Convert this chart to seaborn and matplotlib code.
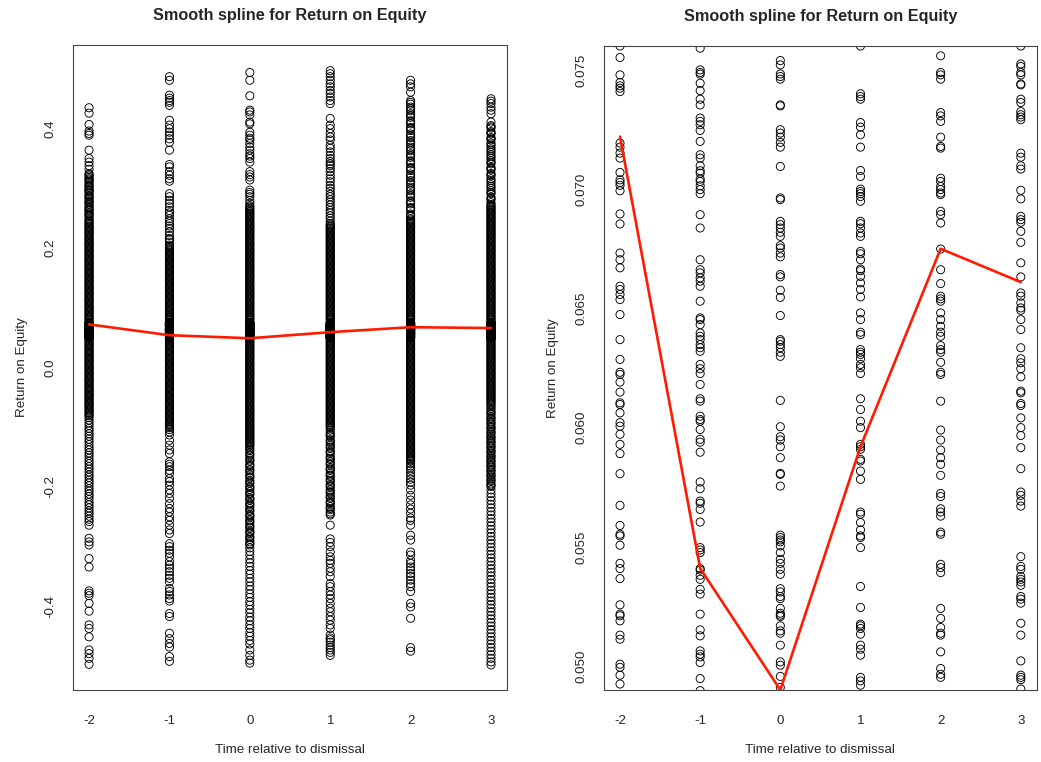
import matplotlib
matplotlib.use("Agg")
import matplotlib.pyplot as plt
import seaborn as sns
import pandas as pd

times = [-2, -1, 0, 1, 2, 3]
spline_roe = [0.0722, 0.0541, 0.0490, 0.0592, 0.0675, 0.0661]

# solid black part shared by every column, in thousandths (window 0.049-0.076 left out)
core = [205, 203, 201, 199, 197, 195, 193, 191, 189, 187, 185, 183, 181, 179, 177, 175,
        173, 171, 169, 167, 165, 163, 161, 159, 157, 155, 153, 151, 149, 147, 145, 143,
        141, 139, 137, 135, 133, 131, 129, 127, 125, 123, 121, 119, 117, 115, 113, 111,
        109, 107, 105, 103, 101, 99, 97, 95, 93, 91, 89, 87, 85, 83, 81, 79,
        47, 45, 43, 41, 39, 37, 35, 33, 31, 29, 27, 25, 23, 21, 19, 17, 15, 13, 11, 9,
        7, 5, 3, 1, -1, -3, -5, -7, -9, -11, -13, -15, -17, -19, -21, -23, -25, -27, -29,
        -31, -33, -35, -37, -39, -41, -43, -45, -47, -49, -51, -53, -55, -57, -59, -61, -63]

# rest of the solid part, per column, in thousandths
band_m2 = [249, 247, 245, 243, 241, 239, 237, 235, 233, 231, 229, 227, 225, 223, 221, 219,
           217, 215, 213, 211, 209, 207, -65, -67, -69, -71, -73, -75, -77, -79, -81]
band_m1 = [-65, -67, -69, -71, -73, -75, -77, -79, -81, -83, -85, -87, -89, -91, -93, -95,
           -97, -99, -101]
band_0 = [271, 269, 267, 265, 263, 261, 259, 257, 255, 253, 251, 249, 247, 245, 243, 241,
          239, 237, 235, 233, 231, 229, 227, 225, 223, 221, 219, 217, 215, 213, 211, 209, 207,
          -65, -67, -69, -71, -73, -75, -77, -79, -81, -83, -85, -87, -89, -91, -93, -95,
          -97, -99, -101, -103, -105, -107, -109, -111, -113, -115, -117, -119, -121, -123,
          -125, -127, -129, -131]
band_1 = [241, 239, 237, 235, 233, 231, 229, 227, 225, 223, 221, 219, 217, 215, 213, 211,
          209, 207, -65, -67, -69, -71, -73, -75, -77, -79, -81, -83, -85, -87, -89, -91,
          -93, -95, -97, -99, -101]
band_2 = [249, 247, 245, 243, 241, 239, 237, 235, 233, 231, 229, 227, 225, 223, 221, 219,
          217, 215, 213, 211, 209, 207, -65, -67, -69, -71, -73, -75, -77, -79, -81, -83,
          -85, -87, -89, -91, -93, -95, -97, -99, -101, -103, -105, -107, -109, -111, -113,
          -115, -117, -119, -121, -123, -125, -127, -129, -131, -133, -135, -137, -139,
          -141, -143, -145, -147, -149, -151, -153, -155, -157]
band_3 = [271, 269, 267, 265, 263, 261, 259, 257, 255, 253, 251, 249, 247, 245, 243, 241,
          239, 237, 235, 233, 231, 229, 227, 225, 223, 221, 219, 217, 215, 213, 211, 209, 207]

# looser chains and outliers, per column
roe_m2 = [0.435, 0.426, 0.407, 0.396, 0.392, 0.389, 0.364, 0.350, 0.344, 0.338, 0.332,
          0.325, 0.323, 0.321, 0.318, 0.316, 0.314, 0.312, 0.309, 0.306, 0.304, 0.302,
          0.299, 0.297, 0.296, 0.294, 0.291, 0.288, 0.286, 0.284, 0.282, 0.279, 0.277,
          0.276, 0.273, 0.270, 0.268, 0.266, 0.264, 0.262, 0.259, 0.257, 0.255, 0.253,
          -0.084, -0.088, -0.093, -0.097, -0.102, -0.106, -0.111, -0.115, -0.120, -0.124,
          -0.129, -0.134, -0.138, -0.143, -0.147, -0.152, -0.157, -0.161, -0.166, -0.170,
          -0.175, -0.180, -0.184, -0.189, -0.193, -0.198, -0.203, -0.207, -0.212, -0.216,
          -0.221, -0.226, -0.230, -0.235, -0.240, -0.244, -0.249, -0.254, -0.258, -0.264,
          -0.286, -0.292, -0.297, -0.320, -0.334, -0.374, -0.378, -0.382, -0.395, -0.408,
          -0.431, -0.437, -0.451, -0.473, -0.479, -0.487, -0.497]
roe_m1 = [0.487, 0.481, 0.456, 0.451, 0.447, 0.444, 0.439, 0.414, 0.406, 0.400, 0.394,
          0.389, 0.383, 0.377, 0.364, 0.340, 0.336, 0.328, 0.322, 0.316, 0.312, 0.291,
          0.286, 0.280, 0.275, 0.269, 0.263, 0.259, 0.255, 0.249, 0.245, 0.241, 0.237,
          0.233, 0.227, 0.221, 0.216, 0.214, 0.210,
          -0.104, -0.108, -0.113, -0.122, -0.130, -0.138, -0.144, -0.158, -0.162, -0.166,
          -0.172, -0.177, -0.186, -0.191, -0.197, -0.205, -0.211, -0.219, -0.228, -0.236,
          -0.242, -0.250, -0.256, -0.264, -0.272, -0.278, -0.295, -0.300, -0.306, -0.311,
          -0.317, -0.325, -0.331, -0.336, -0.342, -0.348, -0.353, -0.359, -0.370, -0.375,
          -0.381, -0.387, -0.391, -0.412, -0.417, -0.445, -0.454, -0.462, -0.468, -0.484,
          -0.492]
roe_0 = [0.494, 0.481, 0.455, 0.431, 0.428, 0.423, 0.411, 0.408, 0.394, 0.389, 0.384,
         0.381, 0.375, 0.369, 0.364, 0.358, 0.354, 0.350, 0.344, 0.328, 0.323, 0.319,
         0.314, 0.297, 0.293, 0.290, 0.286, 0.280, 0.275,
         -0.134, -0.137, -0.139, -0.143, -0.146, -0.148, -0.152, -0.155, -0.157, -0.162,
         -0.164, -0.166, -0.171, -0.173, -0.176, -0.180, -0.183, -0.185, -0.190, -0.192,
         -0.194, -0.199, -0.201, -0.204, -0.208, -0.211, -0.213, -0.218, -0.220, -0.222,
         -0.227, -0.229, -0.232, -0.236, -0.239, -0.241, -0.246, -0.248, -0.250, -0.255,
         -0.257, -0.260, -0.264, -0.267, -0.269, -0.274, -0.276, -0.278, -0.283, -0.285,
         -0.288, -0.292, -0.295, -0.297, -0.302, -0.308, -0.314, -0.321, -0.327, -0.333,
         -0.340, -0.346, -0.353, -0.359, -0.366, -0.372, -0.379, -0.385, -0.392, -0.398,
         -0.405, -0.411, -0.418, -0.424, -0.431, -0.437, -0.444, -0.450, -0.457, -0.463,
         -0.473, -0.482, -0.490, -0.495]
roe_1 = [0.497, 0.492, 0.487, 0.481, 0.475, 0.470, 0.464, 0.459, 0.453, 0.447, 0.442,
         0.417, 0.406, 0.400, 0.392, 0.386, 0.381, 0.372, 0.367, 0.361, 0.355, 0.350,
         0.345, 0.341, 0.338, 0.333, 0.328, 0.322, 0.316, 0.311, 0.305, 0.300, 0.295,
         0.290, 0.286, 0.281, 0.277, 0.272, 0.268, 0.263, 0.259, 0.254, 0.250, 0.245,
         -0.105, -0.109, -0.112, -0.114, -0.116, -0.121, -0.124, -0.126, -0.130, -0.133,
         -0.135, -0.140, -0.142, -0.144, -0.149, -0.152, -0.154, -0.158, -0.161, -0.163,
         -0.168, -0.170, -0.172, -0.177, -0.180, -0.182, -0.186, -0.189, -0.191, -0.196,
         -0.198, -0.200, -0.205, -0.208, -0.210, -0.214, -0.217, -0.219, -0.224, -0.226,
         -0.228, -0.233, -0.236, -0.238, -0.242, -0.245, -0.247, -0.264, -0.287, -0.293,
         -0.300, -0.309, -0.317, -0.323, -0.328, -0.336, -0.342, -0.350, -0.362, -0.367,
         -0.375, -0.381, -0.387, -0.395, -0.403, -0.409, -0.417, -0.423, -0.431, -0.437,
         -0.448, -0.453, -0.456, -0.460, -0.465, -0.469, -0.473, -0.477, -0.482]
roe_2 = [0.481, 0.475, 0.470, 0.461, 0.447, 0.444, 0.441, 0.436, 0.433, 0.430, 0.425,
         0.422, 0.419, 0.413, 0.411, 0.408, 0.402, 0.400, 0.397, 0.391, 0.388, 0.385,
         0.380, 0.377, 0.374, 0.369, 0.366, 0.363, 0.358, 0.355, 0.352, 0.346, 0.344,
         0.341, 0.335, 0.333, 0.330, 0.324, 0.321, 0.318, 0.313, 0.310, 0.307, 0.302,
         0.299, 0.296, 0.291, 0.288, 0.285, 0.279, 0.277, 0.274, 0.268, 0.266, 0.263,
         0.257, 0.255, 0.253,
         -0.161, -0.165, -0.168, -0.172, -0.177, -0.182, -0.187, -0.192,
         -0.197, -0.205, -0.214, -0.222, -0.230, -0.237, -0.244, -0.252, -0.256, -0.264,
         -0.281, -0.289, -0.309, -0.314, -0.323, -0.328, -0.334, -0.339, -0.345, -0.350,
         -0.356, -0.362, -0.367, -0.375, -0.395, -0.401, -0.420, -0.469, -0.475]
roe_3 = [0.450, 0.446, 0.442, 0.436, 0.431, 0.425, 0.411, 0.405, 0.403, 0.401, 0.395,
         0.393, 0.391, 0.385, 0.383, 0.381, 0.376, 0.373, 0.370, 0.366, 0.363, 0.360,
         0.356, 0.353, 0.350, 0.346, 0.343, 0.341, 0.335, 0.333, 0.331, 0.325, 0.323,
         0.321, 0.316, 0.313, 0.310, 0.306, 0.303, 0.300, 0.296, 0.293, 0.291, 0.285,
         0.283, 0.281, 0.276, 0.273,
         -0.066, -0.069, -0.072, -0.075, -0.077, -0.079, -0.083, -0.085, -0.087, -0.091,
         -0.093, -0.095, -0.099, -0.101, -0.103, -0.107, -0.109, -0.111, -0.115, -0.117,
         -0.119, -0.123, -0.125, -0.127, -0.131, -0.133, -0.135, -0.139, -0.141, -0.143,
         -0.147, -0.149, -0.151, -0.155, -0.157, -0.159, -0.163, -0.165, -0.167, -0.171,
         -0.173, -0.175, -0.179, -0.181, -0.183, -0.187, -0.189, -0.191, -0.195, -0.197,
         -0.199, -0.205, -0.211, -0.217, -0.223, -0.229, -0.235, -0.241, -0.247, -0.253,
         -0.259, -0.265, -0.271, -0.277, -0.283, -0.289, -0.295, -0.301, -0.307, -0.313,
         -0.319, -0.325, -0.331, -0.337, -0.343, -0.349, -0.355, -0.361, -0.367, -0.373,
         -0.379, -0.385, -0.391, -0.397, -0.403, -0.409, -0.415, -0.421, -0.427, -0.433,
         -0.439, -0.445, -0.451, -0.457, -0.463, -0.469, -0.475, -0.481, -0.487, -0.493,
         -0.498]

# values inside the zoom window (0.049 - 0.076)
win_m2 = [0.0760, 0.07552, 0.07479, 0.07447, 0.07433, 0.07423, 0.07409, 0.07193, 0.07176,
          0.07151, 0.07130, 0.07070, 0.07039, 0.07028, 0.07016, 0.06993, 0.06896, 0.06854,
          0.06732, 0.06704, 0.06670, 0.06593, 0.06579, 0.06558, 0.06537, 0.06474, 0.06369,
          0.06286, 0.06232, 0.06223, 0.06191, 0.06149, 0.06104, 0.06097, 0.06062, 0.06021,
          0.06006, 0.05972, 0.05930, 0.05891, 0.05807, 0.05674, 0.05590, 0.05553, 0.05546,
          0.05507, 0.05431, 0.05409, 0.05367, 0.05257, 0.05218, 0.05211, 0.05190, 0.05130,
          0.05113, 0.05008, 0.04995, 0.04962, 0.04925]
win_m1 = [0.07591, 0.07500, 0.07489, 0.07482, 0.07444, 0.07413, 0.07377, 0.07353, 0.07298,
          0.07284, 0.07270, 0.07246, 0.07200, 0.07144, 0.07130, 0.07098, 0.07077, 0.07067,
          0.07042, 0.07032, 0.07014, 0.06998, 0.06981, 0.06893, 0.06837, 0.06704, 0.06662,
          0.06649, 0.06628, 0.06614, 0.06593, 0.06530, 0.06460, 0.06453, 0.06432, 0.06397,
          0.06383, 0.06369, 0.06348, 0.06335, 0.06320, 0.06265, 0.06247, 0.06227, 0.06181,
          0.06121, 0.06111, 0.06048, 0.06034, 0.06027, 0.05992, 0.05951, 0.05939, 0.05897,
          0.05772, 0.05744, 0.05692, 0.05683, 0.05657, 0.05604, 0.05497, 0.05487, 0.05476,
          0.05409, 0.05403, 0.05381, 0.05364, 0.05322, 0.05302, 0.05218, 0.05152, 0.05127,
          0.05064, 0.05050, 0.05039, 0.05015, 0.04948, 0.04897]
win_0 = [0.07539, 0.07521, 0.07483, 0.07472, 0.07461, 0.07353, 0.07349, 0.07249, 0.07235,
         0.07218, 0.07196, 0.07176, 0.07095, 0.06963, 0.06956, 0.06865, 0.06851, 0.06837,
         0.06819, 0.06802, 0.06763, 0.06753, 0.06732, 0.06716, 0.06642, 0.06632, 0.06576,
         0.06546, 0.06470, 0.06369, 0.06362, 0.06348, 0.06335, 0.06316, 0.06299, 0.06114,
         0.06004, 0.05962, 0.05948, 0.05920, 0.05874, 0.05808, 0.05804, 0.05755, 0.05549,
         0.05539, 0.05529, 0.05521, 0.05504, 0.05476, 0.05448, 0.05431, 0.05406, 0.05385,
         0.05325, 0.05311, 0.05292, 0.05283, 0.05242, 0.05222, 0.05214, 0.05208, 0.05169,
         0.05148, 0.05138, 0.05088, 0.05018, 0.05004, 0.04957, 0.04911]
win_1 = [0.0760, 0.07400, 0.07388, 0.07377, 0.07279, 0.07260, 0.07228, 0.07176, 0.07078,
         0.07053, 0.07000, 0.06990, 0.06981, 0.06969, 0.06949, 0.06865, 0.06855, 0.06837,
         0.06816, 0.06802, 0.06739, 0.06729, 0.06704, 0.06665, 0.06658, 0.06634, 0.06607,
         0.06579, 0.06548, 0.06481, 0.06453, 0.06400, 0.06390, 0.06327, 0.06316, 0.06307,
         0.06289, 0.06265, 0.06251, 0.06227, 0.06121, 0.06076, 0.06027, 0.06000, 0.05930,
         0.05920, 0.05909, 0.05867, 0.05860, 0.05818, 0.05783, 0.05646, 0.05637, 0.05602,
         0.05571, 0.05546, 0.05539, 0.05497, 0.05334, 0.05246, 0.05176, 0.05169, 0.05158,
         0.05134, 0.05088, 0.05071, 0.05046, 0.04953, 0.04938, 0.04920]
win_2 = [0.07559, 0.07489, 0.07479, 0.07461, 0.07321, 0.07307, 0.07284, 0.07218, 0.07179,
         0.07172, 0.07046, 0.07032, 0.07011, 0.06998, 0.06984, 0.06977, 0.06907, 0.06893,
         0.06858, 0.06749, 0.06662, 0.06604, 0.06551, 0.06540, 0.06530, 0.06481, 0.06453,
         0.06425, 0.06400, 0.06383, 0.06344, 0.06327, 0.06316, 0.06274, 0.06232, 0.06223,
         0.06111, 0.05990, 0.05948, 0.05906, 0.05874, 0.05846, 0.05800, 0.05724, 0.05711,
         0.05660, 0.05646, 0.05629, 0.05562, 0.05553, 0.05427, 0.05413, 0.05392, 0.05242,
         0.05200, 0.05162, 0.05138, 0.05130, 0.05060, 0.04990, 0.04966, 0.04953]
win_3 = [0.0760, 0.07525, 0.07514, 0.07489, 0.07479, 0.07441, 0.07437, 0.07377, 0.07363,
         0.07325, 0.07312, 0.07302, 0.07291, 0.07151, 0.07134, 0.07098, 0.07084, 0.06995,
         0.06959, 0.06886, 0.06872, 0.06861, 0.06823, 0.06777, 0.06691, 0.06632, 0.06565,
         0.06551, 0.06523, 0.06502, 0.06492, 0.06453, 0.06411, 0.06335, 0.06289, 0.06272,
         0.06247, 0.06213, 0.06153, 0.06146, 0.06101, 0.06093, 0.06041, 0.06000, 0.05967,
         0.05916, 0.05828, 0.05730, 0.05716, 0.05692, 0.05671, 0.05459, 0.05418, 0.05406,
         0.05376, 0.05364, 0.05353, 0.05339, 0.05292, 0.05281, 0.05264, 0.05180, 0.05130,
         0.05022, 0.04962, 0.04953, 0.04943, 0.04904]

columns = {-2: (band_m2, roe_m2, win_m2), -1: (band_m1, roe_m1, win_m1),
           0: (band_0, roe_0, win_0), 1: (band_1, roe_1, win_1),
           2: (band_2, roe_2, win_2), 3: (band_3, roe_3, win_3)}
rows = []
for t, (band, spread, win) in columns.items():
    for v in core + band:
        rows.append((t, v / 1000))
    for v in spread + win:
        rows.append((t, v))
df = pd.DataFrame(rows, columns=["time", "roe"])

sns.set_style("white")
plt.rcParams["font.family"] = ["Liberation Sans", "DejaVu Sans"]
plt.rcParams["axes.unicode_minus"] = False

fig = plt.figure(figsize=(10.41, 7.62), dpi=100)
ax1 = fig.add_axes([0.0701, 0.0945, 0.4170, 0.8464])
ax2 = fig.add_axes([0.5802, 0.0945, 0.4158, 0.8451])

panels = [
    (ax1, (-0.54, 0.54), [-0.4, -0.2, 0.0, 0.2, 0.4], ["-0.4", "-0.2", "0.0", "0.2", "0.4"]),
    (ax2, (0.0490, 0.0760), [0.050, 0.055, 0.060, 0.065, 0.070, 0.075],
     ["0.050", "0.055", "0.060", "0.065", "0.070", "0.075"]),
]

for ax, ylim, yt, ylabels in panels:
    sns.scatterplot(data=df, x="time", y="roe", ax=ax, marker="o", s=34,
                    facecolors="none", edgecolors="black", linewidth=0.65, zorder=2)
    sns.lineplot(x=times, y=spline_roe, ax=ax, color="#ff1a00", linewidth=1.9, zorder=3)
    ax.set_xlim(-2.2, 3.2)
    ax.set_ylim(*ylim)
    ax.set_xticks(times)
    ax.set_xticklabels([str(t) for t in times], fontsize=9.6)
    ax.set_yticks(yt)
    ax.set_yticklabels(ylabels, rotation=90, va="center", fontsize=9.6)
    ax.tick_params(direction="out", length=5, width=0.8, color="#444444")
    ax.tick_params(axis="x", pad=13)
    ax.tick_params(axis="y", pad=7)
    for sp in ax.spines.values():
        sp.set_color("#444444")
        sp.set_linewidth(0.8)
    ax.set_title("Smooth spline for Return on Equity", fontsize=11.7,
                 fontweight="bold", pad=18)
    ax.set_xlabel("Time relative to dismissal", fontsize=9.6, labelpad=12)
    ax.set_ylabel("Return on Equity", fontsize=9.6, labelpad=12)

fig.savefig("out.png", dpi=100)
